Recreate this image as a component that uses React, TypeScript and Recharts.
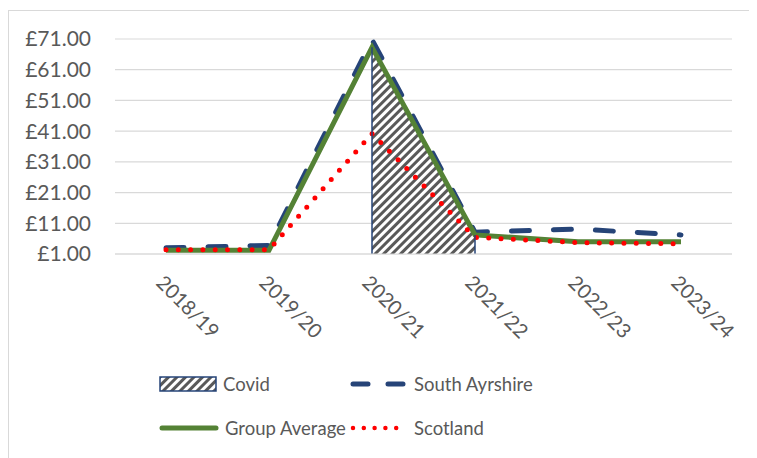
import React from "react"
import { Area, CartesianGrid, ComposedChart, Legend, Line, ReferenceLine, XAxis, YAxis } from "recharts"

const categories = ["2018/19", "2019/20", "2020/21", "2021/22", "2022/23", "2023/24"]
const covid = [null, null, 68.3, 7.2, null, null]
const southAyrshire = [3.0, 3.8, 70.8, 8.1, 9.1, 7.2]
const groupAverage = [2.2, 2.2, 68.3, 7.2, 5.0, 5.0]
const scotland = [2.4, 2.4, 40.2, 6.4, 4.7, 4.3]
const yTicks = [1, 11, 21, 31, 41, 51, 61, 71]
const seriesOrder = ["covid", "southAyrshire", "groupAverage", "scotland"]

const data = categories.map((year, i) => ({
  year,
  covid: covid[i],
  southAyrshire: southAyrshire[i],
  groupAverage: groupAverage[i],
  scotland: scotland[i],
}))

const FONT = "Lato, 'Open Sans', sans-serif"
const TEXT = "#595959"
const NAVY = "#264478"
const GREEN = "#548235"
const RED = "#ff0000"

const covidIdx = covid.map((v, i) => (v == null ? -1 : i)).filter((i) => i >= 0)
const covidEdges = [covidIdx[0], covidIdx[covidIdx.length - 1]]

function XTick({ x, y, payload }: any) {
  const ax = x - 11
  const ay = y + 22
  return (
    <text x={ax} y={ay} transform={`rotate(45, ${ax}, ${ay})`} fill={TEXT} fontSize={20} fontFamily={FONT} textAnchor="start">
      {payload.value}
    </text>
  )
}

function LegendIcon({ kind }: { kind: string }) {
  if (kind === "covid")
    return (
      <svg width={58} height={16}>
        <rect x={1} y={1} width={56} height={14} fill="url(#covidHatch)" stroke={NAVY} strokeWidth={1.5} />
      </svg>
    )
  if (kind === "southAyrshire")
    return (
      <svg width={58} height={16}>
        <line x1={3} y1={8} x2={56} y2={8} stroke={NAVY} strokeWidth={5} strokeDasharray="15 20" strokeLinecap="round" />
      </svg>
    )
  if (kind === "groupAverage")
    return (
      <svg width={60} height={16}>
        <line x1={3} y1={8} x2={57} y2={8} stroke={GREEN} strokeWidth={5} strokeLinecap="round" />
      </svg>
    )
  return (
    <svg width={58} height={16}>
      <line x1={3} y1={8} x2={56} y2={8} stroke={RED} strokeWidth={4.5} strokeDasharray="0 10.8" strokeLinecap="round" />
    </svg>
  )
}

function LegendBox({ payload }: any) {
  const pos = [
    { left: 151, top: 7 },
    { left: 342, top: 7 },
    { left: 151, top: 51 },
    { left: 342, top: 51 },
  ]
  const items = [...(payload || [])].sort((a: any, b: any) => seriesOrder.indexOf(a.dataKey) - seriesOrder.indexOf(b.dataKey))
  return (
    <div style={{ position: "relative", height: 90, width: 749 }}>
      {items.map((p: any, i: number) => (
        <div
          key={p.dataKey}
          style={{ position: "absolute", ...pos[i], display: "flex", alignItems: "center", gap: 6, fontFamily: FONT, fontSize: 18.5, color: TEXT }}
        >
          <LegendIcon kind={p.dataKey} />
          <span>{p.value}</span>
        </div>
      ))}
    </div>
  )
}

export default function App() {
  return (
    <div style={{ position: "relative", width: 749, height: 450 }}>
      <div style={{ position: "absolute", left: 0, top: 2, width: 760, height: 460, borderLeft: "1px solid #d9d9d9", borderTop: "1px solid #d9d9d9" }} />
      <svg width={0} height={0} style={{ position: "absolute" }}>
        <defs>
          <pattern id="covidHatch" patternUnits="userSpaceOnUse" width={6} height={6} patternTransform="rotate(45)">
            <rect width={6} height={6} fill="#ffffff" />
            <rect width={3} height={6} fill="#595959" />
          </pattern>
        </defs>
      </svg>
      <ComposedChart width={749} height={448} data={data} margin={{ top: 31, right: 25, left: 7, bottom: 0 }} style={{ position: "absolute", top: 0, left: 0 }}>
        <CartesianGrid vertical={false} stroke="#d9d9d9" strokeWidth={1.2} />
        <XAxis
          dataKey="year"
          height={112}
          padding={{ left: 51, right: 51 }}
          tickLine={false}
          axisLine={{ stroke: "#d9d9d9", strokeWidth: 1.2 }}
          tick={<XTick />}
          interval={0}
        />
        <YAxis
          width={100}
          domain={[1, 71]}
          ticks={yTicks}
          tickFormatter={(v: number) => `£${v.toFixed(2)}`}
          axisLine={false}
          tickLine={false}
          tickSize={0}
          tickMargin={24}
          tick={{ fill: TEXT, fontSize: 21, fontFamily: FONT }}
        />
        <Area dataKey="covid" name="Covid" type="linear" fill="url(#covidHatch)" fillOpacity={1} stroke={NAVY} strokeWidth={1.5} isAnimationActive={false} legendType="rect" />
        <Line dataKey="southAyrshire" name="South Ayrshire" type="linear" stroke={NAVY} strokeWidth={5} strokeDasharray="18 24" strokeLinecap="round" dot={false} activeDot={false} isAnimationActive={false} />
        <Line dataKey="groupAverage" name="Group Average" type="linear" stroke={GREEN} strokeWidth={5} dot={false} activeDot={false} isAnimationActive={false} />
        <Line dataKey="scotland" name="Scotland" type="linear" stroke={RED} strokeWidth={5} strokeDasharray="0 12.3" strokeLinecap="round" dot={false} activeDot={false} isAnimationActive={false} />
        {covidEdges.map((i) => (
          <ReferenceLine
            key={i}
            segment={[
              { x: categories[i], y: 1 },
              { x: categories[i], y: covid[i] as number },
            ]}
            stroke={NAVY}
            strokeWidth={1.5}
            ifOverflow="visible"
          />
        ))}
        <Legend verticalAlign="bottom" height={90} content={<LegendBox />} wrapperStyle={{ left: 0, width: 749 }} />
      </ComposedChart>
    </div>
  )
}
